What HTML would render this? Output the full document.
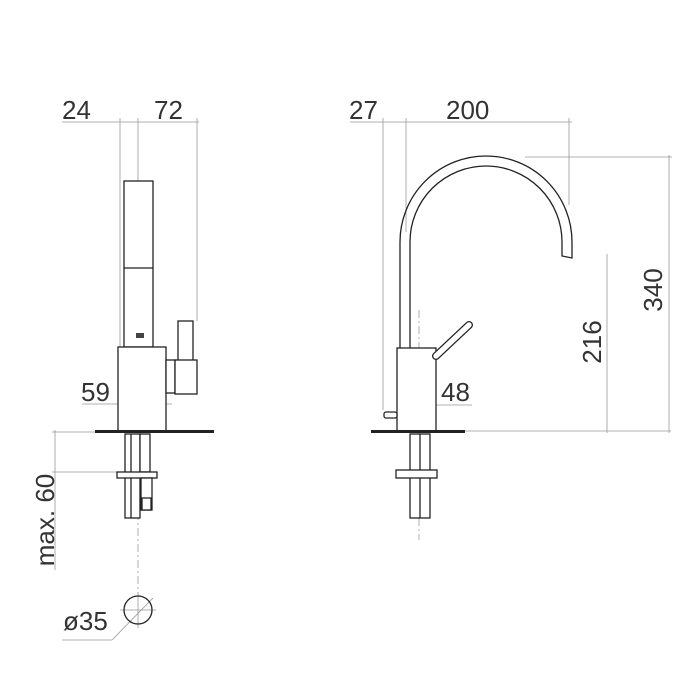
<!DOCTYPE html>
<html><head><meta charset="utf-8"><style>html,body{margin:0;padding:0;background:#fff}svg{display:block}</style></head>
<body>
<svg width="700" height="700" viewBox="0 0 700 700" xmlns="http://www.w3.org/2000/svg" font-family="Liberation Sans, sans-serif">
<g stroke="#999" stroke-width="0.8" fill="none">
<line x1="62" y1="122" x2="199" y2="122"/>
<line x1="120" y1="118" x2="120" y2="347"/>
<line x1="138" y1="118" x2="138" y2="181"/>
<line x1="197" y1="118" x2="197" y2="321"/>
<line x1="82" y1="404" x2="172" y2="404"/>
<line x1="52" y1="432" x2="95" y2="432"/>
<line x1="52" y1="472" x2="117" y2="472"/>
<line x1="55" y1="430" x2="55" y2="570"/>
<line x1="62" y1="640" x2="112" y2="640"/>
<line x1="112" y1="640" x2="153" y2="598"/>
<line x1="138" y1="592" x2="138" y2="628"/>
<line x1="120" y1="610" x2="156" y2="610"/>
<line x1="350" y1="122" x2="572" y2="122"/>
<line x1="383" y1="118" x2="383" y2="410"/>
<line x1="406" y1="118" x2="406" y2="232"/>
<line x1="569" y1="118" x2="569" y2="205"/>
<line x1="397" y1="405" x2="472" y2="405"/>
<line x1="465" y1="431" x2="671" y2="431"/>
<line x1="607" y1="254" x2="607" y2="433"/>
<line x1="669" y1="155" x2="669" y2="433"/>
<line x1="525" y1="157" x2="672" y2="157"/>
</g>
<g stroke="#999" stroke-width="0.8" stroke-dasharray="8,3,2,3" fill="none">
<line x1="138" y1="181" x2="138" y2="347"/>
<line x1="145" y1="347" x2="145" y2="432"/>
<line x1="138" y1="432" x2="138" y2="595"/>
<line x1="419" y1="310" x2="419" y2="540"/>
</g>
<g stroke="#222" stroke-width="1.3" fill="#fff">
<rect x="124" y="181" width="29" height="166"/>
<line x1="124" y1="268" x2="153" y2="268"/>
<rect x="136" y="333" width="8" height="5" fill="#444" stroke="none"/>
<rect x="118" y="347" width="48" height="84"/>
<rect x="166" y="360" width="9" height="33"/>
<rect x="178" y="321" width="15" height="46"/>
<rect x="175" y="360" width="22" height="34"/>
<rect x="125" y="434" width="15" height="84"/>
<line x1="131" y1="434" x2="131" y2="518"/>
<rect x="140" y="434" width="10" height="38"/>
<rect x="117" y="472" width="40" height="6"/>
<rect x="141" y="478" width="11" height="32"/>
<rect x="142" y="498" width="9" height="12"/>
<circle cx="138" cy="610" r="14" fill="none"/>
<path d="M400 348 V242 A86 86 0 0 1 572 242 V258 L562 256 V242 A76 76 0 0 0 410 242 V348" fill="none"/>
<rect x="397" y="348" width="39" height="83"/>
<rect x="384" y="412" width="13" height="6" rx="2"/>
<rect x="410" y="434" width="20" height="84"/>
<line x1="420" y1="434" x2="420" y2="518"/>
<rect x="396" y="470" width="41" height="8"/>
</g>
<line x1="436" y1="356" x2="469" y2="325" stroke="#222" stroke-width="8" stroke-linecap="round"/>
<line x1="436" y1="356" x2="469" y2="325" stroke="#fff" stroke-width="5.4" stroke-linecap="round"/>
<rect x="95" y="430" width="119" height="3" fill="#222"/>
<rect x="371" y="430" width="94" height="3" fill="#222"/>
<g fill="#333" font-size="26">
<text x="62" y="119">24</text>
<text x="154" y="119">72</text>
<text x="81" y="401">59</text>
<text x="63" y="630">ø35</text>
<text x="349" y="119">27</text>
<text x="446" y="119">200</text>
<text x="441" y="401">48</text>
<text transform="translate(54,520) rotate(-90)" text-anchor="middle">max. 60</text>
<text transform="translate(601,342) rotate(-90)" text-anchor="middle">216</text>
<text transform="translate(662,290) rotate(-90)" text-anchor="middle">340</text>
</g>
</svg>
</body></html>
